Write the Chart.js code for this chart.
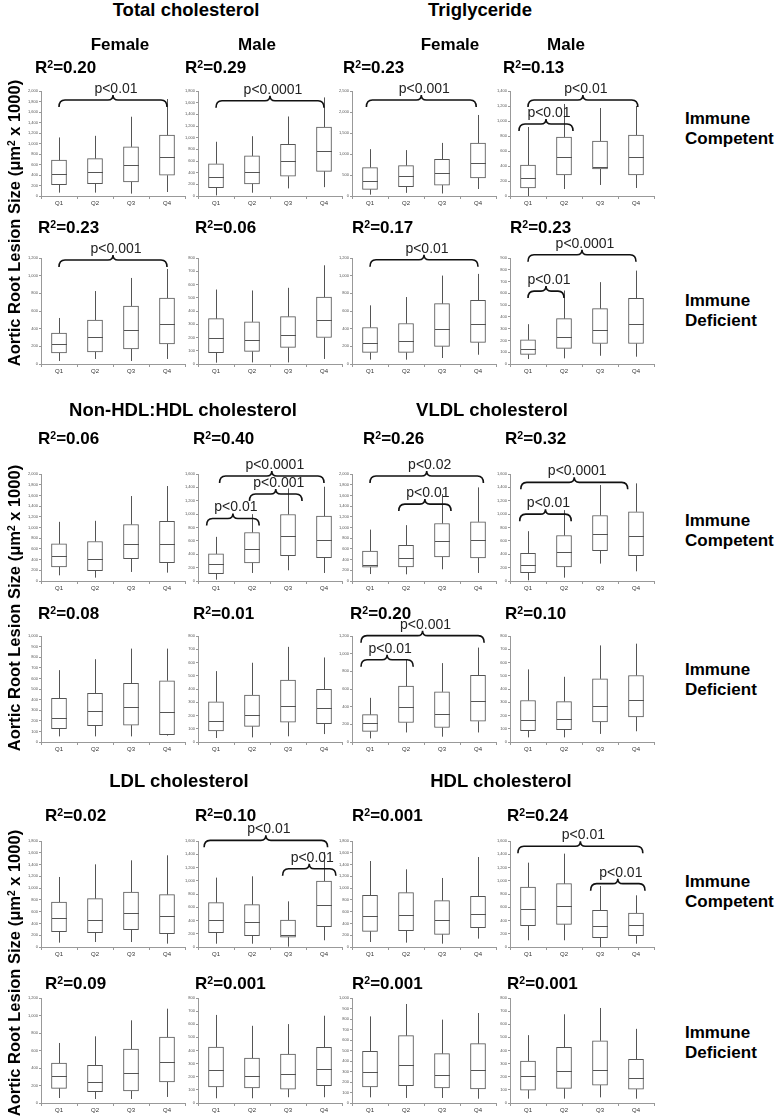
<!DOCTYPE html>
<html>
<head>
<meta charset="utf-8">
<script src="https://cdn.jsdelivr.net/npm/chart.js@4"></script>
<style>
  body { margin: 0; background: #fff; }
  #page { position: relative; width: 777px; height: 1120px; overflow: hidden;
          font-family: "Liberation Sans", Arial, sans-serif; color: #000; }
  canvas { position: absolute; }
  .txt { position: absolute; white-space: nowrap; line-height: 1; }
  .txt sup { font-size: 0.62em; vertical-align: 0.5em; line-height: 0; }
</style>
</head>
<body>
<div id="page"></div>
<script>
// ==========================================
// DATA
// ==========================================
const quartiles = ["Q1", "Q2", "Q3", "Q4"];
const groupNames = ["Total cholesterol", "Triglyceride", "Non-HDL:HDL cholesterol",
                    "VLDL cholesterol", "LDL cholesterol", "HDL cholesterol"];
const sexNames = ["Female", "Male", "Female", "Male"];
const rowNames = [["Immune", "Competent"], ["Immune", "Deficient"]];
const yTitle = "Aortic Root Lesion Size (μm<sup>2</sup> x 1000)";

// panels in reading order: 6 rows x 4 columns
const r2Values = ["0.20", "0.29", "0.23", "0.13",
                  "0.23", "0.06", "0.17", "0.23",
                  "0.06", "0.40", "0.26", "0.32",
                  "0.08", "0.01", "0.20", "0.10",
                  "0.02", "0.10", "0.001", "0.24",
                  "0.09", "0.001", "0.001", "0.001"];
const yMax  = [2000, 1800, 2500, 1400, 1200, 800, 1200, 900,
               2000, 1600, 2000, 1600, 1000, 800, 1200, 800,
               1800, 1600, 1800, 1600, 1200, 800, 1000, 800];
const yStep = [200, 200, 500, 200, 200, 100, 200, 100,
               200, 200, 200, 200, 100, 100, 200, 100,
               200, 200, 200, 200, 200, 100, 100, 100];

const whiskerLow = [
  [64, 64, 45, 76], [10, 56, 130, 152], [32, 75, 60, 167], [0, 93, 147, 107],
  [34, 57, 34, 57], [10, 12, 12, 38], [49, 49, 68, 105], [42, 48, 70, 62],
  [106, 63, 169, 156], [20, 120, 160, 120], [130, 125, 219, 150], [10, 50, 260, 145],
  [53, 53, 53, 60], [30, 35, 43, 60], [41, 108, 60, 108], [35, 35, 61, 81],
  [74, 85, 85, 57], [50, 50, 5, 101], [85, 74, 57, 142], [101, 101, 0, 50],
  [57, 46, 46, 69], [36, 36, 44, 44], [54, 48, 48, 41], [33, 33, 43, 33]];
const boxLow = [
  [217, 236, 268, 395], [141, 208, 338, 423], [159, 220, 258, 429], [107, 280, 360, 280],
  [125, 136, 170, 226], [85, 95, 125, 200], [131, 131, 199, 244], [82, 132, 174, 174],
  [263, 194, 419, 344], [110, 270, 380, 350], [260, 263, 450, 431], [125, 210, 455, 380],
  [125, 153, 159, 70], [83, 118, 150, 138], [120, 221, 164, 235], [86, 93, 151, 189],
  [260, 243, 294, 226], [216, 171, 150, 307], [266, 277, 215, 328], [322, 342, 141, 171],
  [168, 130, 137, 240], [122, 114, 106, 132], [152, 165, 143, 133], [98, 111, 136, 106]];
const medians = [
  [427, 459, 586, 745], [327, 411, 603, 777], [358, 472, 540, 786], [240, 520, 390, 520],
  [226, 306, 385, 453], [193, 180, 220, 330], [236, 263, 394, 458], [127, 233, 287, 338],
  [463, 419, 700, 688], [250, 485, 670, 620], [290, 438, 744, 763], [245, 440, 700, 680],
  [225, 290, 328, 284], [160, 205, 273, 255], [213, 400, 321, 460], [169, 177, 270, 320],
  [498, 464, 583, 521], [413, 382, 175, 629], [521, 549, 458, 555], [579, 614, 322, 337],
  [305, 236, 343, 469], [249, 205, 220, 256], [292, 365, 263, 317], [202, 247, 252, 189]];
const boxHigh = [
  [682, 713, 936, 1159], [552, 687, 885, 1183], [677, 725, 875, 1262], [413, 787, 733, 813],
  [351, 498, 657, 747], [342, 318, 358, 505], [413, 458, 683, 720], [205, 385, 470, 557],
  [694, 738, 1056, 1113], [405, 725, 995, 970], [560, 669, 1075, 1106], [415, 680, 980, 1035],
  [413, 459, 553, 578], [303, 355, 468, 398], [310, 632, 568, 755], [313, 305, 477, 502],
  [764, 821, 934, 889], [669, 639, 408, 996], [877, 923, 787, 860], [906, 956, 553, 513],
  [457, 430, 617, 754], [427, 342, 373, 425], [492, 641, 470, 565], [320, 424, 474, 333]];
const whiskerHigh = [
  [1115, 1146, 1510, 1847], [930, 1025, 1363, 1690], [1115, 1093, 1264, 1929], [920, 1227, 1173, 1200],
  [521, 826, 974, 1075], [562, 555, 575, 745], [664, 758, 1001, 1020], [338, 624, 695, 793],
  [1106, 1125, 1588, 1775], [660, 1000, 1385, 1410], [960, 1044, 1625, 1750], [745, 1060, 1435, 1460],
  [678, 781, 881, 881], [535, 598, 718, 638], [500, 931, 893, 1069], [548, 492, 729, 742],
  [1189, 1404, 1472, 1557], [1047, 1067, 689, 1434], [1460, 1319, 1172, 1528], [1273, 1409, 921, 780],
  [686, 762, 945, 1078], [671, 588, 601, 665], [825, 943, 794, 857], [517, 676, 724, 565]];

// significance braces: [from quartile, to quartile, level (y units), text]
const braces = [
  [[0, 3, 1830, "p<0.01"]], [[0, 3, 1634, "p<0.0001"]], [[-0.1, 2.95, 2286, "p<0.001"]],
  [[-0.25, 1.25, 960, "p<0.01"], [0, 3.05, 1280, "p<0.01"]],
  [[0, 3, 1177, "p<0.001"]], [], [[0, 3, 1181, "p<0.01"]],
  [[0, 1, 619, "p<0.01"], [0, 3, 928, "p<0.0001"]],
  [], [[-0.26, 1.2, 935, "p<0.01"], [0.93, 2.39, 1300, "p<0.001"], [0.1, 3, 1570, "p<0.0001"]],
  [[0.8, 2.25, 1437, "p<0.01"], [0, 3.15, 1962, "p<0.02"]],
  [[-0.23, 1.2, 1000, "p<0.01"], [-0.2, 2.77, 1475, "p<0.0001"]],
  [], [], [[-0.25, 1.2, 931, "p<0.01"], [-0.25, 3.17, 1204, "p<0.001"]], [],
  [], [[-0.33, 3.1, 1610, "p<0.01"], [1.85, 3.33, 1182, "p<0.01"]], [],
  [[-0.28, 3.19, 1520, "p<0.01"], [1.74, 3.25, 956, "p<0.01"]],
  [], [], [], []];

// ==========================================
// LAYOUT
// ==========================================
const rowTop = [91, 258, 474, 636, 841, 998];
const rowBottom = [196, 364, 581, 742, 947, 1103];
const colX = [41, 198, 352, 510];
const plotW = 144;
const padTop = 52, axisW = 24, axisH = 13, padRight = 6;

const page = document.getElementById("page");
const FONT = '"Liberation Sans", Arial, sans-serif';

function addText(html, x, baseline, size, bold, align) {
  const d = document.createElement("div");
  d.className = "txt";
  d.innerHTML = html;
  d.style.fontSize = size + "px";
  d.style.fontWeight = bold ? "bold" : "normal";
  d.style.top = (baseline - 0.846 * size) + "px";
  if (align === "center") {
    d.style.left = x + "px";
    d.style.transform = "translateX(-50%)";
  } else {
    d.style.left = x + "px";
  }
  page.appendChild(d);
  return d;
}

function drawBrace(ctx, xa, xb, yl) {
  const xm = (xa + xb) / 2;
  ctx.beginPath();
  ctx.moveTo(xa, yl + 7);
  ctx.quadraticCurveTo(xa, yl, xa + 6, yl);
  ctx.lineTo(xm - 5, yl);
  ctx.quadraticCurveTo(xm, yl, xm, yl - 5);
  ctx.quadraticCurveTo(xm, yl, xm + 5, yl);
  ctx.lineTo(xb - 6, yl);
  ctx.quadraticCurveTo(xb, yl, xb, yl + 7);
  ctx.stroke();
}

function boxExtras(k) {
  return {
    id: "boxExtras" + k,
    afterDatasetsDraw(chart) {
      const xs = chart.scales.x, ys = chart.scales.y, ctx = chart.ctx;
      ctx.save();
      ctx.strokeStyle = "#555";
      ctx.lineWidth = 1;
      quartiles.forEach((q, i) => {
        const cx = Math.round(xs.getPixelForValue(i)) + 0.5;
        ctx.beginPath();
        ctx.moveTo(cx, ys.getPixelForValue(whiskerHigh[k][i]));
        ctx.lineTo(cx, ys.getPixelForValue(boxHigh[k][i]));
        ctx.moveTo(cx, ys.getPixelForValue(boxLow[k][i]));
        ctx.lineTo(cx, ys.getPixelForValue(whiskerLow[k][i]));
        const my = Math.round(ys.getPixelForValue(medians[k][i])) + 0.5;
        ctx.moveTo(cx - 7.5, my);
        ctx.lineTo(cx + 7.5, my);
        ctx.stroke();
      });
      // braces
      const x0 = xs.getPixelForValue(0), dx = xs.getPixelForValue(1) - x0;
      ctx.strokeStyle = "#111";
      ctx.lineWidth = 1.6;
      ctx.fillStyle = "#222";
      ctx.font = "14px " + FONT;
      ctx.textAlign = "center";
      ctx.textBaseline = "alphabetic";
      braces[k].forEach(([a, b, level, text]) => {
        const xa = x0 + a * dx, xb = x0 + b * dx;
        const yl = ys.getPixelForValue(level);
        drawBrace(ctx, xa, xb, yl);
        ctx.fillText(text, (xa + xb) / 2 + 3, yl - 7);
      });
      ctx.restore();
    }
  };
}

// ==========================================
// PANELS
// ==========================================
for (let k = 0; k < 24; k++) {
  const r = Math.floor(k / 4), c = k % 4;
  const h = rowBottom[r] - rowTop[r];
  const cv = document.createElement("canvas");
  const W = axisW + plotW + padRight, H = padTop + h + axisH;
  cv.width = W; cv.height = H;
  cv.style.width = W + "px"; cv.style.height = H + "px";
  cv.style.left = (colX[c] - axisW) + "px";
  cv.style.top = (rowTop[r] - padTop) + "px";
  page.appendChild(cv);

  new Chart(cv.getContext("2d"), {
    type: "bar",
    data: {
      labels: quartiles,
      datasets: [{
        data: boxLow[k].map((v, i) => [v, boxHigh[k][i]]),
        backgroundColor: "#fff",
        borderColor: "#555",
        borderWidth: 1,
        borderSkipped: false,
        barThickness: 15,
      }],
    },
    options: {
      responsive: false,
      animation: false,
      events: [],
      layout: { padding: { top: padTop, left: 0, right: padRight, bottom: 0 } },
      plugins: { legend: { display: false }, tooltip: { enabled: false } },
      scales: {
        x: {
          afterFit: (s) => { s.height = axisH; },
          grid: { drawOnChartArea: false, tickLength: 3, color: "#999", offset: true },
          border: { color: "#999" },
          ticks: { color: "#333", font: { size: 6, family: FONT }, padding: 1, maxRotation: 0, autoSkip: false },
        },
        y: {
          min: 0,
          max: yMax[k],
          afterFit: (s) => { s.width = axisW; },
          grid: { drawOnChartArea: false, tickLength: 2, color: "#999" },
          border: { color: "#999" },
          ticks: { stepSize: yStep[k], color: "#555", font: { size: 4, family: FONT }, padding: 1 },
        },
      },
    },
    plugins: [boxExtras(k)],
  });
}

// ==========================================
// TEXT
// ==========================================
const groupPos = [[186, 17], [480, 17], [183, 417], [492, 417], [179, 788], [501, 788]];
groupNames.forEach((g, i) => addText(g, groupPos[i][0], groupPos[i][1], 18.5, true, "center"));

const sexX = [120, 257, 450, 566];
sexNames.forEach((s, i) => addText(s, sexX[i], 50, 17, true, "center"));

const r2X = [[35, 185, 343, 503], [38, 195, 352, 510], [38, 193, 363, 505],
             [38, 193, 350, 505], [45, 195, 352, 507], [45, 195, 352, 507]];
const r2Base = [73, 233, 444, 619, 821, 989];
r2Values.forEach((v, k) => {
  const r = Math.floor(k / 4), c = k % 4;
  addText("R<sup>2</sup>=" + v, r2X[r][c], r2Base[r], 17, true, "left");
});

const rowLabelMid = [128, 310, 530, 679, 891, 1042];
rowLabelMid.forEach((m, r) => {
  const lines = rowNames[r % 2];
  addText(lines[0], 685, m - 10 + 6, 17, true, "left");
  addText(lines[1], 685, m + 10 + 6, 17, true, "left");
});

const yTitleMid = [223, 608, 973];
yTitleMid.forEach((m) => {
  const d = document.createElement("div");
  d.className = "txt";
  d.innerHTML = yTitle;
  d.style.fontSize = "16.5px";
  d.style.fontWeight = "bold";
  d.style.left = "14px";
  d.style.top = m + "px";
  d.style.transform = "translate(-50%, -50%) rotate(-90deg)";
  page.appendChild(d);
});
</script>
</body>
</html>
